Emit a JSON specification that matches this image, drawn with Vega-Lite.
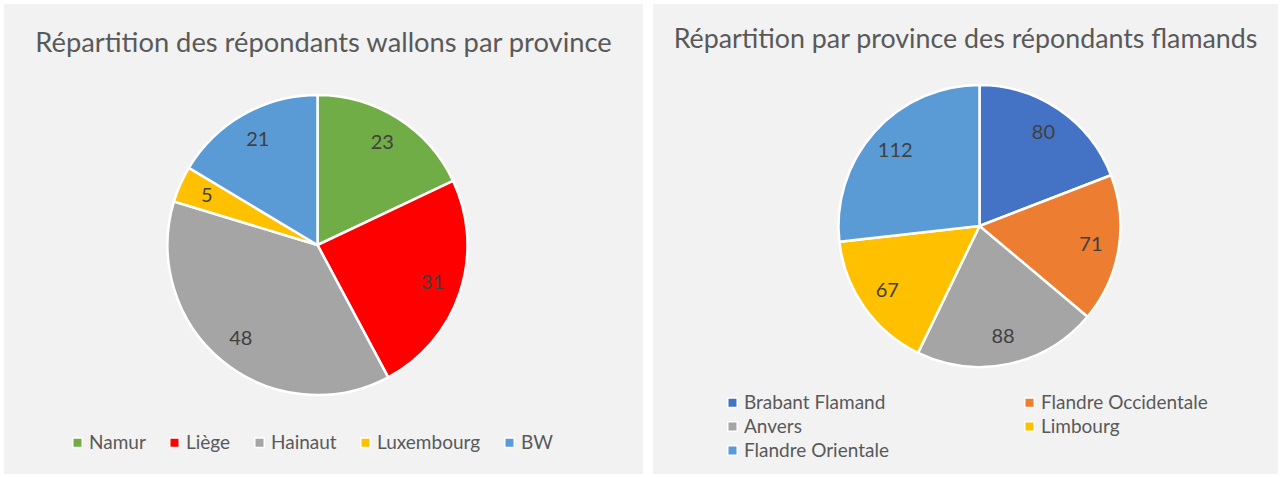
{
  "$schema": "https://vega.github.io/schema/vega-lite/v6.json",
  "background": "white",
  "padding": {"left": 4, "top": 4, "right": 4, "bottom": 3},
  "spacing": 10,
  "resolve": {"scale": {"color": "independent"}, "legend": {"color": "independent"}},
  "config": {
    "view": {"fill": "#f2f2f2", "stroke": null},
    "font": "Lato",
    "title": {"font": "Lato", "fontSize": 27.3, "fontWeight": "normal", "color": "#595959", "anchor": "middle", "baseline": "alphabetic"},
    "legend": {"labelFont": "Lato", "labelFontSize": 19, "labelColor": "#595959", "symbolType": "square", "symbolSize": 90, "symbolStrokeColor": "white", "symbolStrokeWidth": 1.5, "labelLimit": 400}
  },
  "datasets": {
    "wallons": [
      {"province": "Namur", "repondants": 23, "rang": 1},
      {"province": "Liège", "repondants": 31, "rang": 2},
      {"province": "Hainaut", "repondants": 48, "rang": 3},
      {"province": "Luxembourg", "repondants": 5, "rang": 4},
      {"province": "BW", "repondants": 21, "rang": 5}
    ],
    "flamands": [
      {"province": "Brabant Flamand", "repondants": 80, "rang": 1},
      {"province": "Flandre Occidentale", "repondants": 71, "rang": 2},
      {"province": "Anvers", "repondants": 88, "rang": 3},
      {"province": "Limbourg", "repondants": 67, "rang": 4},
      {"province": "Flandre Orientale", "repondants": 112, "rang": 5}
    ]
  },
  "hconcat": [
    {
      "width": 639,
      "height": 470,
      "view": {"fill": "#f2f2f2", "stroke": null},
      "title": {"text": "Répartition des répondants wallons par province", "offset": -53},
      "data": {"name": "wallons"},
      "encoding": {
        "theta": {"field": "repondants", "type": "quantitative", "stack": true},
        "order": {"field": "rang", "type": "quantitative"},
        "color": {
          "field": "province", "type": "nominal",
          "scale": {"domain": ["Namur", "Liège", "Hainaut", "Luxembourg", "BW"], "range": ["#70ad47", "#ff0000", "#a5a5a5", "#ffc000", "#5b9bd5"]},
          "legend": {"title": null, "orient": "none", "direction": "horizontal", "columns": 5, "legendX": 64, "legendY": 429, "columnPadding": 19, "labelOffset": 2, "labelFontSize": 19, "labelColor": "#595959", "labelFont": "Lato"}
        }
      },
      "layer": [
        {"mark": {"type": "arc", "outerRadius": 150, "stroke": "white", "strokeWidth": 2.5, "xOffset": -6, "yOffset": 6}},
        {"mark": {"type": "text", "radius": 121, "fontSize": 20, "font": "Lato", "xOffset": -6, "yOffset": 6}, "encoding": {"text": {"field": "repondants", "type": "quantitative"}, "color": {"value": "#404040"}}}
      ]
    },
    {
      "width": 625,
      "height": 470,
      "view": {"fill": "#f2f2f2", "stroke": null},
      "title": {"text": "Répartition par province des répondants flamands", "offset": -50, "fontSize": 26.8},
      "data": {"name": "flamands"},
      "encoding": {
        "theta": {"field": "repondants", "type": "quantitative", "stack": true},
        "order": {"field": "rang", "type": "quantitative"},
        "color": {
          "field": "province", "type": "nominal",
          "scale": {"domain": ["Brabant Flamand", "Flandre Occidentale", "Anvers", "Limbourg", "Flandre Orientale"], "range": ["#4472c4", "#ed7d31", "#a5a5a5", "#ffc000", "#5b9bd5"]},
          "legend": {"title": null, "orient": "none", "direction": "horizontal", "columns": 2, "legendX": 70, "legendY": 389, "columnPadding": 131, "rowPadding": 4, "labelOffset": 2, "labelFontSize": 19, "labelColor": "#595959", "labelFont": "Lato"}
        }
      },
      "layer": [
        {"mark": {"type": "arc", "outerRadius": 141, "stroke": "white", "strokeWidth": 2.5, "xOffset": 14, "yOffset": -13}},
        {"mark": {"type": "text", "radius": 113, "fontSize": 20, "font": "Lato", "xOffset": 14, "yOffset": -13}, "encoding": {"text": {"field": "repondants", "type": "quantitative"}, "color": {"value": "#404040"}}}
      ]
    }
  ]
}
